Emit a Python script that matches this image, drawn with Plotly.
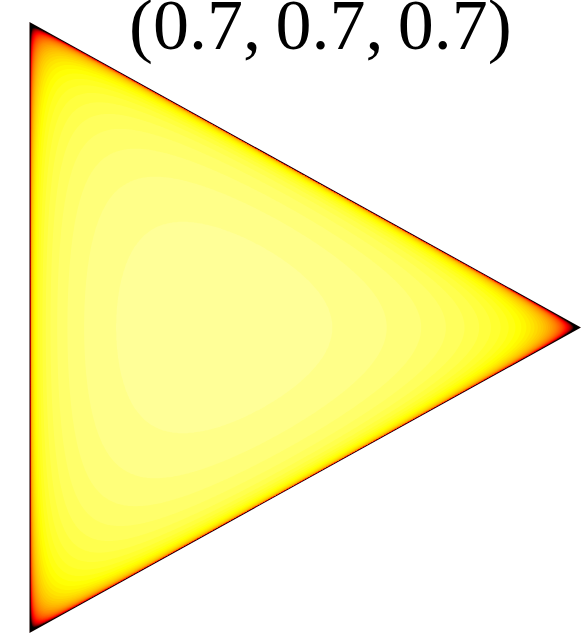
import numpy as np
import plotly.graph_objects as go
from math import gamma

# Dirichlet concentration parameters shown in the title
alpha = [0.7, 0.7, 0.7]
title_text = "(0.7,\u20090.7,\u20090.7)"

# contour levels of the density (colour runs from the first to the last level)
level_start = 0.385
level_step = 0.145
level_end = 10.1

# matplotlib "hot" reversed
hot_r = [
    [0.0, "rgb(255,255,255)"],
    [0.254, "rgb(255,255,0)"],
    [0.635, "rgb(255,0,0)"],
    [1.0, "rgb(0,0,0)"],
]

# simplex corners (bottom, top, right) in an equilateral layout
h = np.sqrt(3) / 2
corners_x = [0.0, 0.0, h]
corners_y = [0.0, 1.0, 0.5]


def dirichlet_pdf(l1, l2, l3, a):
    norm = gamma(sum(a)) / (gamma(a[0]) * gamma(a[1]) * gamma(a[2]))
    return norm * l1 ** (a[0] - 1) * l2 ** (a[1] - 1) * l3 ** (a[2] - 1)


n = 420
xs = np.linspace(0, h, n)
ys = np.linspace(0, 1, n)
X, Y = np.meshgrid(xs, ys)
lc = X / h
la = Y - 0.5 * lc
lb = 1 - la - lc
inside = (la > 0) & (lb > 0) & (lc > 0)
eps = 1e-6
Z = dirichlet_pdf(np.clip(lb, eps, 1), np.clip(la, eps, 1), np.clip(lc, eps, 1), alpha)
Z = np.where(inside, Z, level_end + 1)
Z = np.minimum(Z, level_end + 1).round(3)

fig = go.Figure()
fig.add_trace(
    go.Contour(
        x=xs,
        y=ys,
        z=Z,
        colorscale=hot_r,
        autocontour=False,
        contours=dict(start=level_start, end=level_end, size=level_step, coloring="fill"),
        line=dict(width=0),
        showscale=False,
        hoverinfo="skip",
    )
)

x_range = [-0.0463, 0.8692]
y_range = [-0.0033, 1.036]

# white mask outside the simplex
mask = "M {0},{2} L {1},{2} L {1},{3} L {0},{3} Z ".format(
    x_range[0] - 0.1, x_range[1] + 0.1, y_range[0] - 0.1, y_range[1] + 0.1
)
mask += "M {},{} L {},{} L {},{} Z".format(
    corners_x[0], corners_y[0], corners_x[1], corners_y[1], corners_x[2], corners_y[2]
)
fig.add_shape(
    type="path",
    path=mask,
    fillcolor="white",
    fillrule="evenodd",
    line=dict(width=0),
    layer="above",
)

fig.add_trace(
    go.Scatter(
        x=corners_x + [corners_x[0]],
        y=corners_y + [corners_y[0]],
        mode="lines",
        line=dict(color="rgb(20,0,0)", width=1.2),
        hoverinfo="skip",
        showlegend=False,
    )
)

fig.add_annotation(
    text=title_text,
    xref="paper",
    yref="paper",
    x=0.55,
    y=0.961,
    xanchor="center",
    yanchor="middle",
    showarrow=False,
    font=dict(family="Liberation Serif", size=72, color="black"),
)

fig.update_layout(
    width=583,
    height=635,
    margin=dict(l=0, r=0, t=0, b=0),
    paper_bgcolor="white",
    plot_bgcolor="white",
    showlegend=False,
    xaxis=dict(range=x_range, visible=False),
    yaxis=dict(range=y_range, visible=False),
)

# drop the browser's default body margin so the figure fills the window
fig.write_html(
    "out.html",
    config={"displayModeBar": False},
    post_script="document.body.style.margin = '0';",
)
